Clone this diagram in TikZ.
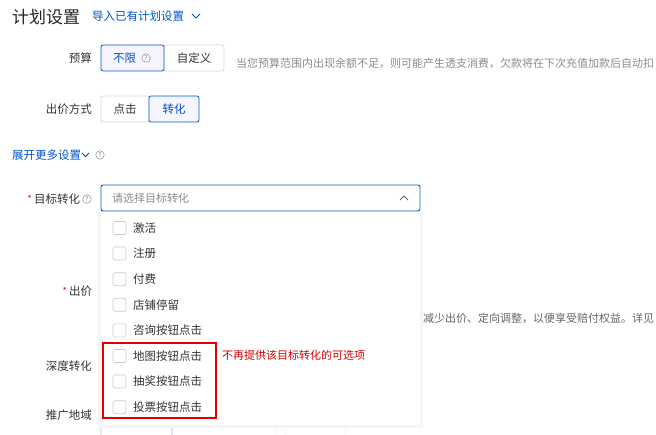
\documentclass[tikz,border=0pt]{standalone}
\usepackage{fontspec}
\setmainfont{Noto Sans CJK SC}
\begin{document}
\begin{tikzpicture}[x=1pt,y=-1pt,
  lbl/.style={font=\fontsize{11.5}{12}\selectfont,text=black!80,inner sep=0},
  gray/.style={font=\fontsize{11}{12}\selectfont,text=black!45,inner sep=0},
  blu/.style={font=\fontsize{11.5}{12}\selectfont,text=blue!60!cyan!80!black,inner sep=0},
  btn/.style={draw=black!15,fill=white,rounded corners=2pt,line width=0.8pt},
  sel/.style={draw=blue!55!cyan!80!black,fill=blue!4,rounded corners=2pt,line width=0.8pt},
  chk/.style={draw=black!20,rounded corners=1.5pt,line width=0.7pt},
  q/.style={circle,draw=black!45,line width=0.5pt,inner sep=0,minimum size=8.5pt,font=\fontsize{6.5}{7}\selectfont,text=black!50},
  red/.style={text=red!85!black}]
\path[use as bounding box] (0,0) rectangle (656,435);
\fill[white] (0,0) rectangle (656,435);
\clip (0,0) rectangle (656,435);
\node[anchor=west,inner sep=0,font=\fontsize{17}{18}\selectfont,text=black!85] (title) at (12,17) {计划设置};
\node[blu,anchor=west] (imp) at (92,16) {导入已有计划设置};
\draw[blue!60!cyan!80!black,line width=0.9pt] (192,14) -- (196,18) -- (200,14);
% budget
\node[lbl,anchor=east] (ys) at (92,58) {预算};
\path[btn] (164,45) rectangle (224,71);
\path[sel] (101,45) rectangle (164,71);
\node[blu,anchor=west] (bx) at (113,58) {不限};
\node[q] (q1) at (146,58) {?};
\node[lbl] (zdy) at (194,58) {自定义};
\node[gray,anchor=west] (tip) at (236,63) {当您预算范围内出现余额不足，则可能产生透支消费，欠款将在下次充值加款后自动扣};
% bid
\node[lbl,anchor=east] (cj) at (92,109) {出价方式};
\path[btn] (101,96) rectangle (149,122);
\path[sel] (149,96) rectangle (199,122);
\node[lbl] (dj) at (125,109) {点击};
\node[blu] (zh) at (174,109) {转化};
% more
\node[blu,anchor=west] (more) at (12,155) {展开更多设置};
\draw[blue!60!cyan!80!black,line width=0.9pt] (82,153) -- (85.5,156.5) -- (89,153);
\node[q] (q2) at (100,155) {?};
% target
\node[red,anchor=east,inner sep=0,font=\small] (st1) at (32,199) {*};
\node[lbl,anchor=west] (mb) at (34,199) {目标转化};
\node[q] (q3) at (87,199) {?};
\draw[draw=blue!55!cyan!80!black,fill=white,rounded corners=2pt,line width=0.9pt] (101,185) rectangle (420,211);
\node[gray,anchor=west] (ph) at (112,198) {请选择目标转化};
\draw[black!60,line width=0.8pt] (400,200) -- (404,196) -- (408,200);
% labels behind
\node[red,anchor=east,inner sep=0,font=\small] (st2) at (67,291) {*};
\node[lbl,anchor=west] (cjv) at (69,291) {出价};
\node[gray,anchor=west,text=black!60] (tip2) at (412,318) {量减少出价、定向调整，以便享受赔付权益。详见};
\node[lbl,anchor=east] (sd) at (92,366) {深度转化};
\node[lbl,anchor=east] (tg) at (92,415) {推广地域};
\path[draw=black!15,rounded corners=2pt] (172,420) rectangle (276,440) (286,420) rectangle (345,440);
\path[draw=blue!55!cyan!80!black,rounded corners=2pt] (101,420) rectangle (172,440);
% dropdown
\foreach \i in {1,...,4}{\fill[black!\i] (101-\i*0.8,213) rectangle (420+\i*0.8,425+\i*0.8);}
\fill[white] (101,213) rectangle (420,425);
\foreach \t [count=\k] in {激活,注册,付费,店铺停留,咨询按钮点击,地图按钮点击,抽奖按钮点击,投票按钮点击}{
  \pgfmathsetmacro\yy{228+(\k-1)*25.6}
  \draw[chk] (113,\yy-6.5) rectangle (126,\yy+6.5);
  \node[lbl,anchor=west] (it\k) at (133,\yy) {\t};
}
\draw[red!90!black,line width=1.6pt] (103,343) rectangle (216,418);
\node[red,anchor=west,inner sep=0,font=\fontsize{11}{12}\selectfont] (note) at (222,355) {不再提供该目标转化的可选项};
\end{tikzpicture}
\end{document}
